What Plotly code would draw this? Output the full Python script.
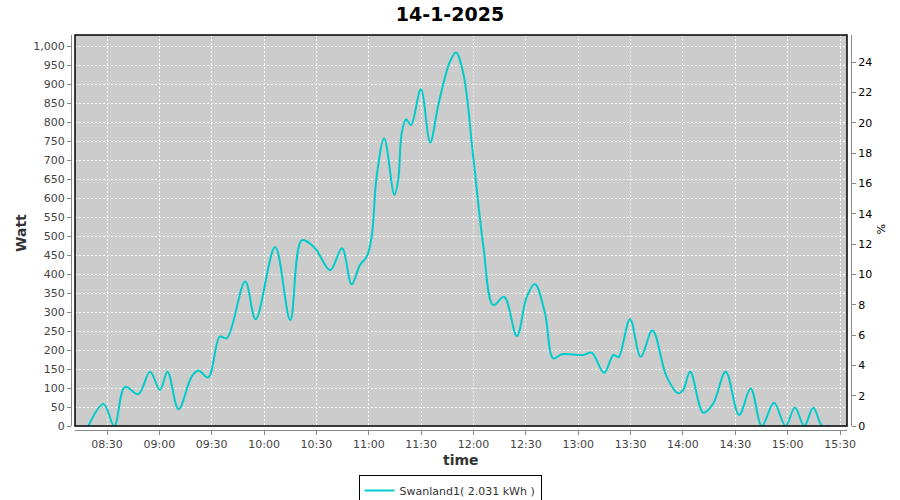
import plotly.graph_objects as go

DAY = "2025-01-14 "
times = ["08:19:20", "08:28:00", "08:34:10", "08:40:20", "08:48:00", "08:54:40", "09:00:20",
         "09:04:40", "09:11:00", "09:18:30", "09:22:20", "09:28:00", "09:34:40", "09:38:40",
         "09:49:10", "09:55:10", "10:06:20", "10:15:00", "10:21:40", "10:29:10", "10:37:50",
         "10:44:40", "10:50:10", "10:55:00", "10:58:50", "11:01:40", "11:04:30", "11:08:50",
         "11:14:40", "11:16:50", "11:18:50", "11:21:20", "11:24:10", "11:29:50", "11:35:10",
         "11:39:50", "11:46:30", "11:50:00", "11:54:10", "11:59:50", "12:05:40", "12:11:20",
         "12:17:30", "12:24:50", "12:30:30", "12:35:10", "12:41:00", "12:45:40", "12:50:30",
         "13:02:50", "13:07:40", "13:14:50", "13:20:10", "13:23:00", "13:29:40", "13:35:50",
         "13:42:30", "13:50:40", "13:57:20", "14:00:10", "14:04:10", "14:11:40", "14:17:20",
         "14:24:30", "14:32:10", "14:38:50", "14:45:10", "14:52:10", "14:58:50", "15:04:10",
         "15:09:30", "15:14:40", "15:19:50", "15:24:20"]
watts = [0, 58, 0, 103, 84, 143, 95,
         143, 44, 130, 146, 128, 235, 231,
         380, 281, 471, 279, 489, 468, 410,
         468, 373, 424, 446, 498, 656, 757,
         608, 647, 770, 807, 792, 886, 746,
         845, 959, 983, 928, 709, 472, 318,
         340, 237, 340, 374, 296, 178, 189,
         187, 193, 140, 187, 181, 281, 182,
         251, 130, 86, 95, 143, 35, 59,
         143, 29, 99, 0, 61, 0, 49,
         0, 48, 0, 0]

series_name = "Swanland1( 2.031 kWh )"
title_text = "14-1-2025"
x_range = ["08:11:40", "15:34:00"]
x_tick0 = "08:30"
watt_range = [0, 1029]
pct_range = [0, 25.8]

xs = [DAY + t for t in times]

FONT = "DejaVu Sans"
TICKC = "#444444"
AXC = "#888888"

fig = go.Figure()
fig.add_trace(go.Scatter(
    x=xs, y=watts, mode="lines", name=series_name,
    line=dict(color="#00CCCC", width=2, shape="spline", smoothing=1.0),
))
fig.add_trace(go.Scatter(x=[None], y=[None], yaxis="y2", showlegend=False,
                         hoverinfo="skip"))

W, H = 900, 500
ml, mr, mt, mb = 71, 49, 35, 70
pw = W - ml - mr
ph = H - mt - mb
gap = 4

fig.update_layout(
    width=W, height=H,
    margin=dict(l=ml, r=mr, t=mt, b=mb, pad=0, autoexpand=False),
    paper_bgcolor="white",
    plot_bgcolor="#CCCCCC",
    font=dict(family=FONT, size=11, color=TICKC),
    title=dict(text="<b>" + title_text + "</b>", x=0.5, xanchor="center",
               y=1 - 14 / H, yanchor="middle",
               font=dict(family=FONT, size=19, color="black")),
    xaxis=dict(
        type="date", automargin=False,
        domain=[gap / pw, 1 - gap / pw],
        anchor="free", position=0,
        range=[DAY + x_range[0], DAY + x_range[1]],
        tick0=DAY + x_tick0, dtick=30 * 60 * 1000,
        tickformat="%H:%M",
        showline=True, linecolor=AXC, linewidth=1,
        ticks="outside", ticklen=4, tickcolor=AXC,
        showgrid=True, gridcolor="white", griddash="2px,2px", gridwidth=1,
        zeroline=False,
        tickfont=dict(family=FONT, size=11, color=TICKC),
    ),
    yaxis=dict(
        automargin=False,
        domain=[gap / ph, 1],
        anchor="free", position=0,
        range=watt_range, dtick=50, tickformat=",d",
        showline=True, linecolor=AXC, linewidth=1,
        ticks="outside", ticklen=4, tickcolor=AXC,
        showgrid=True, gridcolor="white", griddash="2px,2px", gridwidth=1,
        zeroline=False,
        tickfont=dict(family=FONT, size=11, color=TICKC),
    ),
    yaxis2=dict(
        automargin=False,
        overlaying="y", side="right",
        anchor="free", position=1,
        range=pct_range, dtick=2,
        showline=True, linecolor=AXC, linewidth=1,
        ticks="outside", ticklen=4, tickcolor=AXC,
        showgrid=False, zeroline=False,
        tickfont=dict(family=FONT, size=11, color="black"),
    ),
    showlegend=True,
    legend=dict(
        orientation="h", x=(450 - ml) / pw, xanchor="center",
        y=(H - mb - 475) / ph, yanchor="top",
        bordercolor="black", borderwidth=1, bgcolor="white",
        itemwidth=30, tracegroupgap=0,
        font=dict(family=FONT, size=11, color="#333333"),
    ),
    shapes=[dict(type="rect", xref="x domain", yref="y domain",
                 x0=0, x1=1, y0=0, y1=1, line=dict(color="black", width=1.5),
                 layer="above")],
    annotations=[
        dict(text="<b>Watt</b>", xref="paper", yref="paper",
             x=(21 - ml) / pw, y=(H - mb - 233) / ph, textangle=-90,
             xanchor="center", yanchor="middle",
             showarrow=False, font=dict(family=FONT, size=14, color="#333333")),
        dict(text="<b>time</b>", xref="paper", yref="paper",
             x=(461 - ml) / pw, y=(H - mb - 460) / ph,
             xanchor="center", yanchor="middle",
             showarrow=False, font=dict(family=FONT, size=14, color="#333333")),
        dict(text="%", xref="paper", yref="paper",
             x=(880 - ml) / pw, y=(H - mb - 229) / ph, textangle=90,
             xanchor="center", yanchor="middle",
             showarrow=False, font=dict(family=FONT, size=11, color="black")),
    ],
)

fig.write_html("out.html", config={"displayModeBar": False},
               post_script="document.body.style.margin='0';"
                           "document.body.style.overflow='hidden';")
